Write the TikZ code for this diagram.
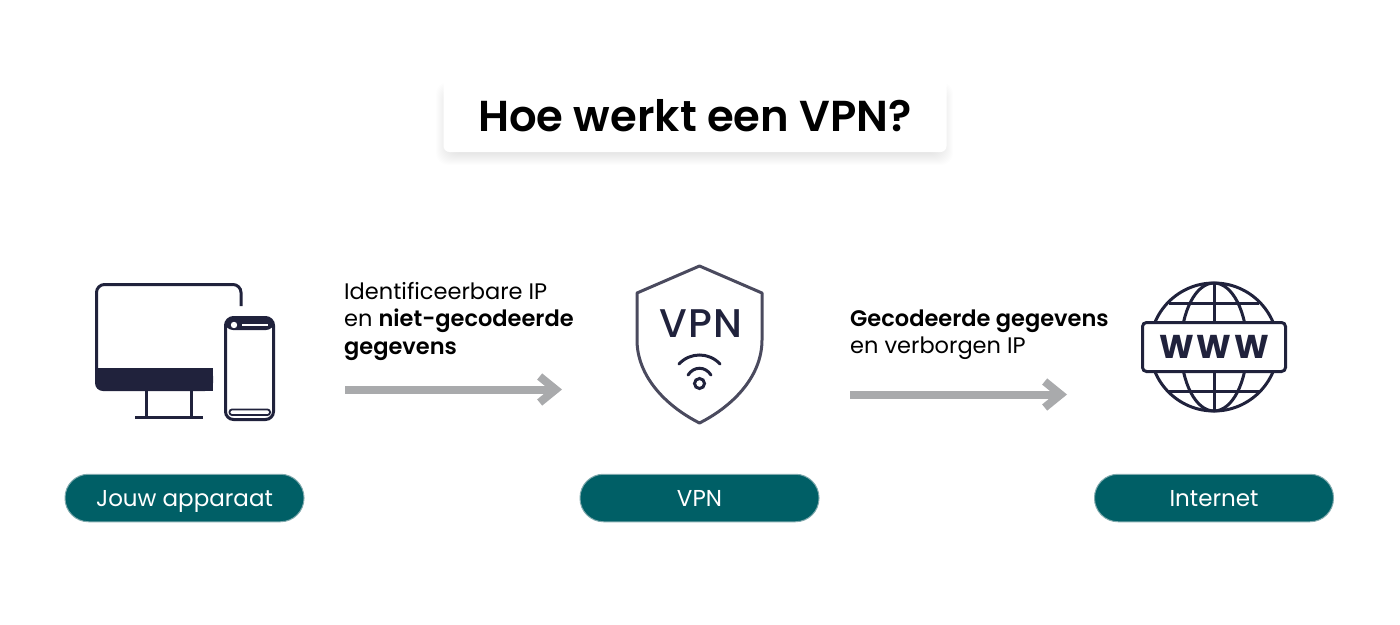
\documentclass[tikz,border=0pt]{standalone}
\usepackage{fontspec}
\setmainfont{Poppins}[BoldFont = {Poppins SemiBold}]
\newfontfamily\mediumfont{Poppins Medium}
\newfontfamily\heavyfont{Poppins Bold}
\usetikzlibrary{arrows.meta}
\definecolor{navy}{HTML}{20223C}
\definecolor{shieldgray}{HTML}{4A4A5E}
\definecolor{teal}{HTML}{005F66}
\definecolor{pillborder}{HTML}{7FA9AD}
\definecolor{arrowgray}{HTML}{A9AAAC}
\begin{document}
\begin{tikzpicture}[x = 1pt, y = -1pt,
        pill/.style = {draw = pillborder, line width = 1pt, fill = teal, rounded corners = 23.5pt, text = white, font = \fontsize{23}{28}\selectfont, minimum width = 239pt, minimum height = 47.5pt, inner sep = 0pt, text height = 17pt, text depth = 0pt},
        caption/.style = {anchor = west, align = left, inner sep = 0pt, font = \fontsize{22.5}{27.5}\selectfont},
        flow/.style = {draw = arrowgray, line width = 8pt, -{Straight Barb[length = 16pt, width = 26pt, line width = 8pt]}},
        icon/.style = {draw = navy, line width = 3pt}
    ]
    \useasboundingbox (0, 0) rectangle (1400, 624);
    \foreach \r in {1, ..., 14} {
        \fill [black, opacity = 0.006, rounded corners = 12pt] (443 - 8 + \r, 75 + 14 - 8 + \r) rectangle (946 + 8 - \r, 152 + 6 + 8 - \r);
    }
    \node [fill = white, rounded corners = 6pt, minimum width = 503pt, minimum height = 77pt, inner sep = 0pt, text height = 36pt, text depth = 0pt, font = \fontsize{43.3}{50}\selectfont\bfseries] (title) at (695, 113.5) {Hoe werkt een VPN?};

    \draw [icon, rounded corners = 8pt] (96.5, 368) -- (96.5, 284.5) -- (241, 284.5) -- (241, 306);
    \fill [navy, rounded corners = 8pt] (95, 368) -- (95, 391) -- (213, 391) -- (213, 368) -- cycle;
    \fill [navy] (95, 368) rectangle (213, 378);
    \fill [navy] (200, 368) rectangle (213, 391);
    \draw [icon] (146, 391) -- (146, 417);
    \draw [icon] (191.5, 391) -- (191.5, 417);
    \draw [icon] (135, 417) -- (203, 417);

    \draw [icon, rounded corners = 8pt] (225.5, 317.5) rectangle (273.5, 419.5);
    \fill [navy, rounded corners = 8pt] (225, 330) -- (225, 317) -- (274, 317) -- (274, 330) -- cycle;
    \fill [white] (234, 325) circle (3.2);
    \draw [white, line width = 2pt] (242, 325) -- (268, 325);
    \fill [navy] (224, 342) rectangle (226, 346);
    \fill [navy] (224, 348) rectangle (226, 352);
    \draw [navy, line width = 1.8pt, rounded corners = 2.5pt] (229.5, 409.5) rectangle (270, 415);

    \draw [draw = shieldgray, line width = 3pt, line join = round] (699.5, 266) -- (762, 293) -- (762, 340) .. controls (762, 375) and (735, 405) .. (699.5, 423) .. controls (664, 405) and (637, 375) .. (637, 340) -- (637, 293) -- cycle;
    \node [text = navy, inner sep = 0pt, font = \fontsize{40}{40}\mediumfont\addfontfeature{LetterSpace = 3}] (shieldtext) at (700.5, 324) {VPN};
    \draw [icon, line cap = round] (679, 364) .. controls (690, 352) and (709, 352) .. (720, 364);
    \draw [icon, line cap = round] (688, 375) .. controls (694, 366) and (705, 366) .. (711, 375);
    \draw [icon] (699.5, 383.5) circle (5);

    \draw [icon] (1214, 347) circle (64);
    \draw [icon] (1214, 347) ellipse (33 and 64);
    \draw [icon] (1214, 283) -- (1214, 411);
    \draw [icon] (1169, 303) -- (1259, 303);
    \draw [icon] (1169, 391) -- (1259, 391);
    \node [draw = navy, line width = 3pt, fill = white, rounded corners = 4pt, minimum width = 143pt, minimum height = 49pt, inner sep = 0pt, text = navy, font = \fontsize{33}{33}\heavyfont\addfontfeature{LetterSpace = 8}] (www) at (1214, 347) {WWW};

    \node [caption] (leftlabel) at (344, 321) {Identificeerbare IP\\en \textbf{niet-gecodeerde}\\\textbf{gegevens}};
    \node [caption] (rightlabel) at (850, 334.5) {\textbf{Gecodeerde gegevens}\\en verborgen IP};

    \coordinate (leftstart) at (345, 389.5);
    \coordinate (leftend) at (562, 389.5);
    \coordinate (rightstart) at (850, 394.5);
    \coordinate (rightend) at (1067, 394.5);
    \draw [flow] (leftstart) -- (leftend);
    \draw [flow] (rightstart) -- (rightend);

    \node [pill] (device) at (184.5, 498) {Jouw apparaat};
    \node [pill] (vpn) at (699.5, 498) {VPN};
    \node [pill] (internet) at (1214, 498) {Internet};
\end{tikzpicture}
\end{document}
